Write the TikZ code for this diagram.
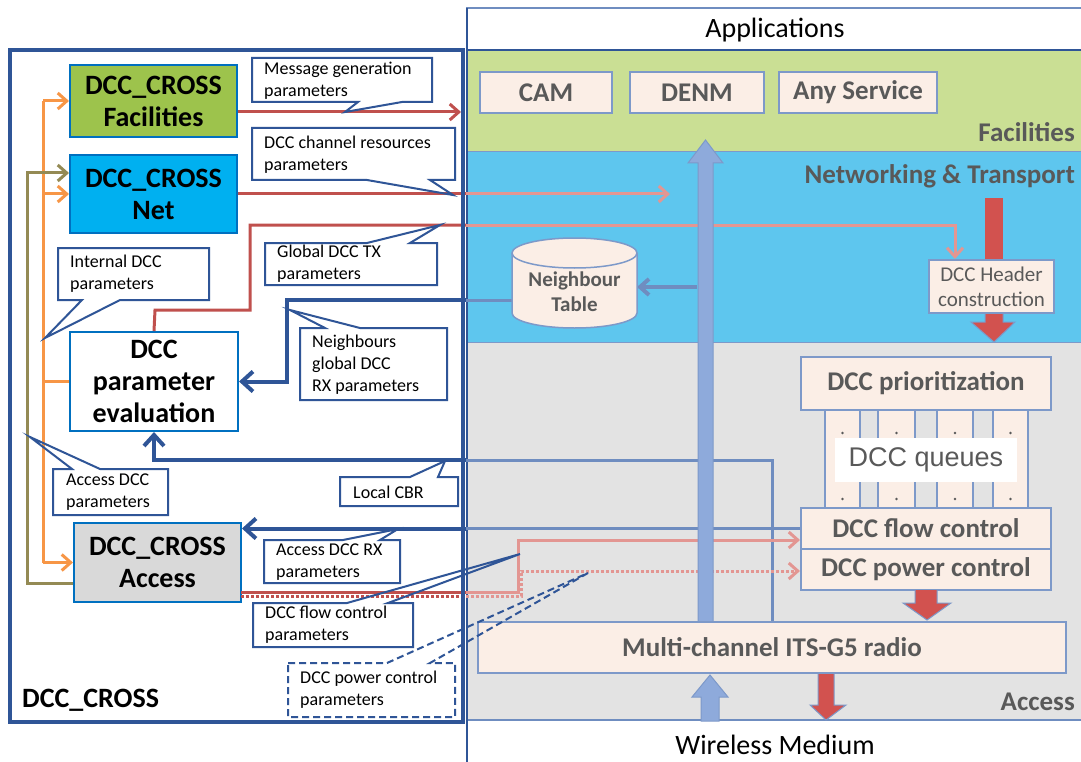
\documentclass[tikz,border=0pt]{standalone}
\usepackage{fontspec}
\setmainfont{Carlito}
\newfontfamily\arialf{Liberation Sans}
\usetikzlibrary{arrows.meta,calc}
\definecolor{dkblue}{HTML}{2F5597}
\definecolor{brblue}{HTML}{0070C0}
\definecolor{facgreen}{HTML}{9DC34C}
\definecolor{netcyan}{HTML}{00B0F0}
\definecolor{accgray}{HTML}{D9D9D9}
\definecolor{layfac}{HTML}{CADF94}
\definecolor{laynet}{HTML}{5EC6EE}
\definecolor{layacc}{HTML}{E3E3E3}
\definecolor{boxpink}{HTML}{FBEEE6}
\definecolor{boxedge}{HTML}{7D99C9}
\definecolor{txtgray}{HTML}{595959}
\definecolor{shaftblue}{HTML}{8EAADB}
\definecolor{bigred}{HTML}{D2524F}
\definecolor{dkred}{HTML}{C0504D}
\definecolor{ltred}{HTML}{E39692}
\definecolor{steel}{HTML}{6F8DC0}
\definecolor{orangeL}{HTML}{F79646}
\definecolor{oliveL}{HTML}{948A54}
\tikzset{
  lbox/.style={draw=brblue, line width=2pt, align=center, inner sep=0pt, text=black, font=\fontsize{28}{32}\selectfont\bfseries},
  rbox/.style={draw=boxedge, line width=1.5pt, fill=boxpink, align=center, inner sep=0pt, text=txtgray, font=\fontsize{27}{30}\selectfont\bfseries},
  laylbl/.style={anchor=east, inner sep=0pt, text=txtgray, font=\fontsize{27}{30}\selectfont\bfseries},
  cbox/.style={draw=dkblue, line width=2pt, line join=miter},
  ctext/.style={anchor=west, align=left, inner sep=0pt, text=black, font=\fontsize{18}{22}\selectfont},
  chev/.style={-{Straight Barb[length=9pt,width=16pt]}},
  bigchev/.style={-{Straight Barb[length=11pt,width=20pt]}},
  lwa/.style={line width=3pt},
  lwb/.style={line width=4pt},
  bigarrow/.style={line width=1pt, draw=boxedge, line join=miter},
}
\begin{document}
\begin{tikzpicture}[x=1pt,y=-1pt]
\useasboundingbox (0,0) rectangle (1081,762);
\fill[white] (0,0) rectangle (1081,762);

% ---------- right protocol stack ----------
\fill[layfac] (466,50) rectangle (1081,152);
\fill[laynet] (466,152) rectangle (1081,342);
\fill[layacc] (466,342) rectangle (1081,720);
\draw[boxedge, line width=1pt] (466,152) -- (1081,152);
\draw[boxedge, line width=1pt] (466,342) -- (1081,342);
\draw[steel, line width=1.5pt] (466,8) -- (1081,8);
\draw[dkblue, line width=1.5pt] (466,50) -- (1081,50);
\draw[steel, line width=1.5pt] (466,720) -- (1081,720);
\draw[dkblue, line width=2pt] (467,8) -- (467,762);

\node[inner sep=0pt, font=\fontsize{28}{32}\selectfont] (apps) at (775,30) {Applications};
\node[inner sep=0pt, font=\fontsize{28}{32}\selectfont] (wm) at (775,745) {Wireless Medium};
\node[laylbl] (lfac) at (1075,132) {Facilities};
\node[laylbl] (lnet) at (1075,176) {Networking \& Transport};
\node[laylbl] (lacc) at (1075,702) {Access};

\coordinate (bx) at (466,0);

% left-side nodes
\node[lbox, fill=facgreen, minimum width=167pt, minimum height=72pt] (fac) at (153.5,101) {DCC\_CROSS\\Facilities};
\node[lbox, fill=netcyan, minimum width=167pt, minimum height=78pt] (net) at (153.5,194) {DCC\_CROSS\\Net};
\node[lbox, fill=white, minimum width=168pt, minimum height=99pt] (eval) at (154,381.5) {DCC\\parameter\\evaluation};
\node[lbox, fill=accgray, minimum width=167pt, minimum height=79pt] (acc) at (157.5,562.5) {DCC\_CROSS\\Access};

% facilities boxes
\node[rbox, minimum width=132pt, minimum height=41pt] (cam) at (546,92.5) {CAM};
\node[rbox, minimum width=134pt, minimum height=41pt] (denm) at (697,92.5) {DENM};
\node[rbox, minimum width=158pt, minimum height=41pt] (any) at (858,92.5) {Any Service};

\coordinate (ntL) at (512,300);
\coordinate (ntR) at (637,287);

% red: facilities parameters
\draw[dkred, lwa, chev] ($(fac.east)+(0,11)$) -- ($(fac.east -| bx)+(-5,11)$);
% red: net channel resources
\draw[dkred, lwa] (net.east) -- (net.east -| bx);
\draw[ltred, lwa, chev] (net.east -| bx) -- (670,194);
% red: global DCC TX
\draw[dkred, lwa] (eval.north) -- (155,310) -- (250,310) -- (250,225) -- (466,225);
\draw[ltred, lwa, chev] (466,225) -- (955,225) -- (955,259);
% neighbour table -> evaluation
\draw[steel, lwa] (ntL) -- (ntL -| bx);
\draw[dkblue, lwb, bigchev] (ntL -| bx) -- (287,300) |- (eval.east);
\draw[steel, lwb, chev] (697,287) -- (ntR);

% ---------- access layer boxes ----------
\node[rbox, minimum width=250pt, minimum height=53pt] (prio) at (926,383.5) {DCC prioritization};
\foreach \a/\b in {825/860,878/915,937/973,993/1028}{
  \filldraw[fill=boxpink, draw=boxedge, line width=1.5pt] (\a,410) rectangle (\b,508);
  \fill[txtgray] ({(\a+\b)/2},433) circle (1.3pt);
  \fill[txtgray] ({(\a+\b)/2},499) circle (1.3pt);
}
\node[fill=white, minimum width=182pt, minimum height=44pt, inner sep=0pt, text=txtgray, font=\arialf\fontsize{27}{30}\selectfont] (queues) at (926,460) {DCC queues};
\node[rbox, minimum width=250pt, minimum height=41pt] (flow) at (926,528.5) {DCC flow control};
\node[rbox, minimum width=250pt, minimum height=41pt] (pow) at (926,569.5) {DCC power control};

% local CBR
\draw[steel, lwa] (772,622) -- (772,460) -- (466,460);
\draw[dkblue, lwb, bigchev] (466,460) -| (eval.south);
% access DCC RX
\draw[steel, lwa] (flow.west) -- (flow.west -| bx);
\draw[dkblue, lwb, bigchev] (flow.west -| bx) -- (flow.west -| acc.east);
% flow control parameters
\draw[dkred, lwa] (241,592) -- (466,592);
\draw[ltred, lwa, chev] (466,592) -- (518,592) -- (518,540) -- (800,540);
% power control parameters
\draw[dkred, lwa, dotted] (241,596) -- (466,596);
\draw[ltred, lwa, dotted, chev] (466,596) -- (521,596) -- (521,571) -- (800,571);

% ---------- big arrows ----------
\filldraw[fill=shaftblue, bigarrow] (698,622) -- (698,163) -- (688,163) -- (705.5,140) -- (723,163) -- (713,163) -- (713,622) -- cycle;
\filldraw[fill=shaftblue, bigarrow] (701,721) -- (701,697) -- (692,697) -- (710,675) -- (728,697) -- (719,697) -- (719,721) -- cycle;
\fill[bigred] (985,198) rectangle (1003,260);
\filldraw[fill=bigred, bigarrow] (985,313) -- (985,322) -- (971,322) -- (994,342) -- (1015,322) -- (1003,322) -- (1003,313);
\filldraw[fill=bigred, bigarrow] (915,590) -- (915,603) -- (903,603) -- (927,620) -- (951,603) -- (937,603) -- (937,590);
\filldraw[fill=bigred, bigarrow] (818,673) -- (818,705) -- (810,705) -- (826,720) -- (846,705) -- (834,705) -- (834,673);
\node[rbox, minimum width=588pt, minimum height=51pt] (radio) at (772,647.5) {Multi-channel ITS-G5 radio};
\node[rbox, minimum width=125pt, minimum height=53pt, font=\fontsize{21}{25}\selectfont] (hdr) at (991.5,286.5) {DCC Header\\construction};

% neighbour table cylinder
\filldraw[fill=boxpink, draw=boxedge, line width=1.5pt] (512,253) -- (512,313) arc[start angle=180, end angle=0, x radius=62.5, y radius=15] -- (637,253);
\filldraw[fill=boxpink, draw=boxedge, line width=1.5pt] (574.5,253) ellipse [x radius=62.5, y radius=15];
\node[inner sep=0pt, align=center, text=txtgray, font=\fontsize{21}{25}\selectfont\bfseries] (ntab) at (574.5,292) {Neighbour\\Table};

% ---------- orange / olive internal connectors ----------
\coordinate (ox) at (43,0);
\draw[orangeL, lwa] (eval.west) -- (eval.west -| ox);
\draw[orangeL, lwa] (fac.west -| ox) -- (acc.west -| ox);
\draw[orangeL, lwa, chev] (fac.west -| ox) -- (fac.west);
\draw[orangeL, lwa, chev] (net.west -| ox) -- (net.west);
\draw[orangeL, lwa, chev] (acc.west -| ox) -- (acc.west);
\draw[oliveL, lwa, chev] ($(acc.west)+(0,20.5)$) -- (27,583) -- (27,173) -- ($(net.west)+(0,-21)$);

% ---------- callouts ----------
\fill[white] (252,58) rectangle (432,102);
\draw[cbox] (252,58) -- (432,58) -- (432,102) -- (402,102) -- (345,112) -- (358,102) -- (252,102) -- cycle;
\node[ctext] (cmsg) at (264,81) {Message generation\\parameters};

\fill[white] (252,128) rectangle (455,180);
\draw[cbox] (252,128) -- (455,128) -- (455,180) -- (430,180) -- (453,195) -- (367,180) -- (252,180) -- cycle;
\node[ctext] (cchan) at (264,155) {DCC channel resources\\parameters};

\fill[white] (265,243) rectangle (437,285);
\draw[cbox] (265,243) -- (367,243) -- (440,225) -- (410,243) -- (437,243) -- (437,285) -- (265,285) -- cycle;
\node[ctext] (cgtx) at (277,264) {Global DCC TX\\parameters};

\fill[white] (58,248) rectangle (209,300);
\draw[cbox] (58,248) -- (209,248) -- (209,300) -- (120,300) -- (45,338) -- (82,300) -- (58,300) -- cycle;
\node[ctext] (cint) at (70,274) {Internal DCC\\parameters};

\fill[white] (300,328) rectangle (447,400);
\draw[cbox] (300,328) -- (325,328) -- (290,310) -- (360,328) -- (447,328) -- (447,400) -- (300,400) -- cycle;
\node[ctext] (cnbr) at (312,365) {Neighbours\\global DCC\\RX parameters};

\fill[white] (53,469) rectangle (168,515);
\draw[cbox] (53,469) -- (72,469) -- (30,437) -- (100,469) -- (168,469) -- (168,515) -- (53,515) -- cycle;
\node[ctext] (cadcc) at (66,492) {Access DCC\\parameters};

\fill[white] (340,477) rectangle (458,506);
\draw[cbox] (340,477) -- (410,477) -- (445,461) -- (438,477) -- (458,477) -- (458,506) -- (340,506) -- cycle;
\node[ctext] (ccbr) at (353,492) {Local CBR};

\fill[white] (264,540) rectangle (400,583);
\draw[cbox] (264,540) -- (343,540) -- (398,529) -- (380,540) -- (400,540) -- (400,583) -- (264,583) -- cycle;
\node[ctext] (carx) at (276,562) {Access DCC RX\\parameters};

% DCC_CROSS container
\draw[dkblue, line width=4pt] (10,50) rectangle (463,722);
\node[anchor=west, inner sep=0pt, font=\fontsize{28}{32}\selectfont\bfseries] (dcl) at (22,700) {DCC\_CROSS};

\fill[white] (253,603) rectangle (413,647);
\draw[cbox] (253,603) -- (347,603) -- (520,554) -- (388,603) -- (413,603) -- (413,647) -- (253,647) -- cycle;
\node[ctext] (cfcp) at (265,625) {DCC flow control\\parameters};

\fill[white] (288,663) rectangle (455,717);
\draw[cbox, dash pattern=on 7pt off 4pt] (288,663) -- (387,663) -- (588,573) -- (430,663) -- (455,663) -- (455,717) -- (288,717) -- cycle;
\node[ctext] (cpcp) at (300,690) {DCC power control\\parameters};
\end{tikzpicture}
\end{document}
